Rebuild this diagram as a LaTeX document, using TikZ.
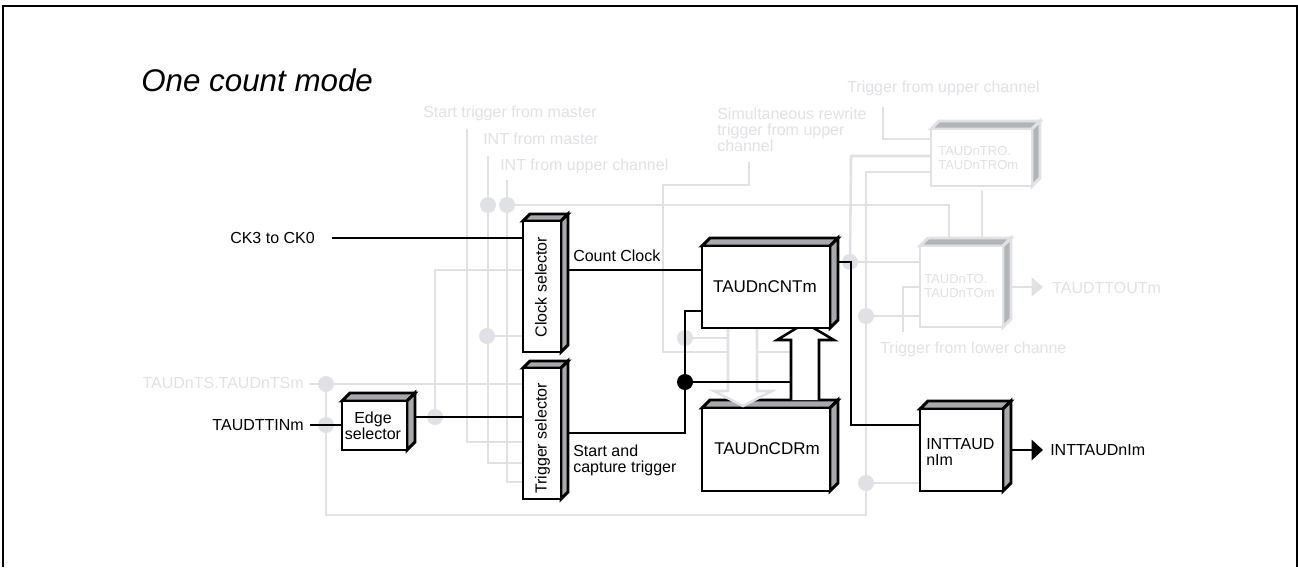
\documentclass[tikz,border=0pt]{standalone}
\usepackage{fontspec}
\setmainfont{Liberation Sans}
\usetikzlibrary{arrows.meta,fit}
\definecolor{gl}{HTML}{E0E1E5}
\definecolor{sideK}{HTML}{A7A9AC}
\definecolor{sideG}{HTML}{B2B5B7}
\tikzset{
  x=0.75pt,y=-0.75pt,
  gline/.style={draw=gl,line width=1.9pt,line join=miter},
  kline/.style={draw=black,line width=1.9pt,line join=miter},
  gdot/.style={circle,fill=gl,draw=none,minimum size=12pt,inner sep=0pt},
  kdot/.style={circle,fill=black,draw=none,minimum size=12pt,inner sep=0pt},
  lab/.style={font=\fontsize{12}{12}\selectfont,inner sep=0pt,text height=8.6pt,text depth=0pt,text=black},
  glab/.style={lab,text=gl},
  mlab/.style={font=\fontsize{12}{12}\selectfont,inner sep=0pt,align=left,text=black},
  gmlab/.style={mlab,text=gl},
  smlab/.style={font=\fontsize{9.75}{10.5}\selectfont,inner sep=0pt,align=left,text=gl},
  bigl/.style={font=\fontsize{12.75}{13}\selectfont,inner sep=0pt,text=black},
  Kface/.style={draw=black,line width=2.2pt,line join=miter,fill=white,inner sep=0pt,outer sep=0pt},
  Gface/.style={draw=gl,line width=2.2pt,line join=miter,fill=white,inner sep=0pt,outer sep=0pt},
  Kside/.style={draw=black,line width=2.2pt,line join=miter,fill=sideK},
  Gside/.style={draw=gl,line width=2.2pt,line join=miter,fill=sideG},
}
\newcommand{\dbox}[7]{%
  \path (#2,#3) coordinate (#1-a) (#4,#5) coordinate (#1-b);
  \path[#7side] (#2,#3) -- ({#2+#6},{#3-#6}) -- ({#4+#6},{#3-#6}) -- (#4,#3) -- cycle;
  \path[#7side] (#4,#3) -- ({#4+#6},{#3-#6}) -- ({#4+#6},{#5-#6}) -- (#4,#5) -- cycle;
  \node[#7face,fit=(#1-a)(#1-b)] (#1) {};
}
\begin{document}
\begin{tikzpicture}
\useasboundingbox (0,0) rectangle (1298,567);
% frame
\draw[line width=2.2pt,line join=miter] (3,567) -- (3,6) -- (1297,6) -- (1297,567);

% ---- node positions: dots and free ends
\node[gdot] (dA) at (488,205) {};
\node[gdot] (dB) at (507,205) {};
\node[gdot] (dC) at (487,336) {};
\node[gdot] (dD) at (435,417) {};
\node[gdot] (dE) at (326,384) {};
\node[gdot] (dF) at (326,425) {};
\node[gdot] (dG) at (685,338) {};
\node[gdot] (dH) at (850,262) {};
\node[gdot] (dI) at (866,316) {};
\node[gdot] (dJ) at (866,483) {};
\coordinate (startTop) at (467,129);
\coordinate (masterTop) at (488,156);
\coordinate (upperTop) at (507,180);
\coordinate (simTop) at (749,162);
\coordinate (trigUpTop) at (883,107);
\coordinate (trigLowEnd) at (903,332);
\coordinate (tsStart) at (309,384);
\coordinate (tinStart) at (310,425);
\coordinate (ckStart) at (332,238);
\coordinate (gridA) at (326,515);
\coordinate (gridB) at (866,515);

% ---- grey connectors
\draw[gline] (startTop) -- (467,442) -- (530,442);
\draw[gline] (masterTop) -- (488,463) -- (530,463);
\draw[gline] (upperTop) -- (507,482) -- (530,482);
\draw[gline] (dB.center) -- (949,205) -- (949,240);
\draw[gline] (dD.center) -- (435,270) -- (530,270);
\draw[gline] (dC.center) -- (530,336);
\draw[gline] (tsStart) -- (530,384);
\draw[gline] (dE.center) -- (gridA) -- (gridB) -- (866,172) -- (935,172);
\draw[gline] (dI.center) -- (925,316);
\draw[gline] (dJ.center) -- (925,483);
\draw[gline] (dH.center) -- (851,156) -- (935,156);
\draw[gline] (dH.center) -- (925,262);
\draw[gline] (simTop) -- (749,185) -- (663,185) -- (663,352) -- (795,352);
\draw[gline] (dG.center) -- (735,338);
\draw[gline] (trigUpTop) -- (883,139) -- (935,139);
\draw[gline] (trigLowEnd) -- (903,287) -- (925,287);
\draw[gline] (982,190) -- (982,240);

% TAUDnCDRm sits under the grey bus arrow's tip
\dbox{cdr}{702}{408}{830}{491}{8}{K}

% grey bus arrow (into TAUDnCDRm)
\draw[gline,fill=white] (728,326) -- (728,391) -- (714,391) -- (743,406) -- (772,391) -- (757,391) -- (757,326);

% grey boxes
\dbox{tro}{931}{129}{1032}{186}{8}{G}
\dbox{to}{920}{246}{1003}{327}{8}{G}
\node[smlab,anchor=north west] (troT) at (938,146) {TAUDnTRO.\\TAUDnTROm};
\node[smlab,anchor=north west] (toT) at (924,274) {TAUDnTO.\\TAUDnTOm};
\coordinate (toTip) at (1043,287);
\draw[gline,-{Triangle[length=8.5pt,width=14pt]}] (1011,287) -- (toTip);

% ---- black connectors
\node[kdot] (dK) at (685,382) {};
\draw[kline] (ckStart) -- (530,238);
\draw[kline] (565,270) -- (710,270);
\draw[kline] (tinStart) -- (350,425);
\draw[kline] (410,417) -- (530,417);
\draw[kline] (565,433) -- (685,433) -- (685,311) -- (710,311);
\draw[kline] (dK.center) -- (795,382);
\draw[kline] (832,262) -- (851,262) -- (851,425) -- (925,425);
\coordinate (intTip) at (1043,450);
\draw[kline,-{Triangle[length=8.5pt,width=15pt]}] (1008,450) -- (intTip);

% black bus arrow (into TAUDnCNTm)
\draw[kline,fill=white] (791,400) -- (791,340) -- (777,340) -- (805,323) -- (834,340) -- (819,340) -- (819,400);

% black boxes
\dbox{clock}{523}{221}{561}{352}{7}{K}
\dbox{trig}{523}{368}{561}{499}{7}{K}
\dbox{edge}{342}{401}{407}{450}{8}{K}
\dbox{cnt}{702}{246}{830}{328}{8}{K}
\dbox{inta}{920}{409}{1003}{491}{8}{K}

% ---- texts
\node[anchor=west,inner sep=0pt,font=\fontsize{23.5}{24}\selectfont\itshape] (title) at (141,80) {One count mode};

\node[glab,anchor=west] (tStart) at (423,112) {Start trigger from master};
\node[glab,anchor=west] (tIntM) at (483,139) {INT from master};
\node[glab,anchor=west] (tIntU) at (500,165) {INT from upper channel};
\node[gmlab,anchor=north west] (tSim) at (717,108) {Simultaneous rewrite\\trigger from upper\\channel};
\node[glab,anchor=west] (tTrU) at (847,87) {Trigger from upper channel};
\node[glab,anchor=west] (tTrL) at (880,348) {Trigger from lower channe};
\node[glab,anchor=west] (tOut) at (1052,288) {TAUDTTOUTm};
\node[glab,anchor=east] (tTS) at (304,383) {TAUDnTS.TAUDnTSm};

\node[lab,anchor=east] (tTin) at (304,425) {TAUDTTINm};
\node[lab,anchor=east] (tCk) at (315,238) {CK3 to CK0};
\node[lab,anchor=west] (tCC) at (573,256) {Count Clock};
\node[mlab,anchor=north west] (tSC) at (573,445) {Start and\\capture trigger};
\node[lab,anchor=west] (tInt) at (1050,450) {INTTAUDnIm};

\node[lab,rotate=90] (tClk) at (541,287) {Clock selector};
\node[lab,rotate=90] (tTrig) at (541,438.5) {Trigger selector};
\node[mlab,align=center] (tEdge) at (373,426) {Edge\\selector};
\node[bigl] (tCnt) at (765,287) {TAUDnCNTm};
\node[bigl] (tCdr) at (767,449) {TAUDnCDRm};
\node[mlab,anchor=north west] (tInta) at (926,438) {INTTAUD\\nIm};
\end{tikzpicture}
\end{document}
